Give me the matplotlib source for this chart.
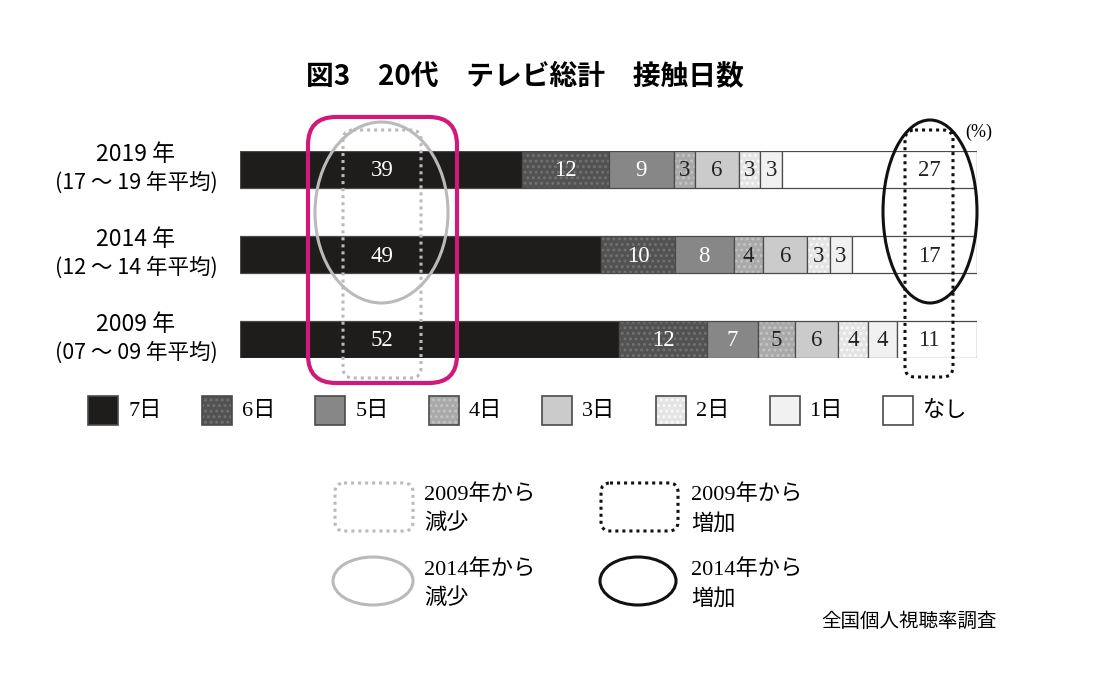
import matplotlib
matplotlib.use('Agg')
import numpy as np
import matplotlib.pyplot as plt
from matplotlib.patches import Rectangle, Ellipse, FancyBboxPatch

plt.rcParams['font.family'] = ['Noto Sans CJK JP', 'DejaVu Sans']
plt.rcParams['hatch.linewidth'] = 1.3

# data
title = '図3　20代　テレビ総計　接触日数'
years = ['2019 年', '2014 年', '2009 年']
periods = ['(17 ～ 19 年平均)', '(12 ～ 14 年平均)', '(07 ～ 09 年平均)']
categories = ['7日', '6日', '5日', '4日', '3日', '2日', '1日', 'なし']
values_2019 = [39, 12, 9, 3, 6, 3, 3, 27]
values_2014 = [49, 10, 8, 4, 6, 3, 3, 17]
values_2009 = [52, 12, 7, 5, 6, 4, 4, 11]
rows = [values_2019, values_2014, values_2009]
notes = [['2009年から', '減少'], ['2009年から', '増加'],
         ['2014年から', '減少'], ['2014年から', '増加']]
source = '全国個人視聴率調査'

# styles
colors = ['#1f1d1c', '#525252', '#878787', '#a9a9a9', '#cbcbcb', '#e4e4e4', '#f1f1f1', '#ffffff']
hatches = [None, '...', None, '...', None, '...', None, None]
hatch_cols = [None, '#727272', None, '#c4c4c4', None, '#fafafa', None, None]
text_cols = ['white', 'white', 'white', '#222222', '#222222', '#222222', '#222222', '#222222']
serif = ['Liberation Serif', 'Noto Sans CJK JP']
edge = '#4a4a4a'

W, H = 1098, 674
fig = plt.figure(figsize=(W / 100, H / 100), dpi=100)

# bar axes
top, bot = 150.6, 358.0
ax = fig.add_axes([240 / W, 1 - bot / H, (977 - 240) / W, (bot - top) / H])
ax.set_xlim(0, 100)
ax.set_ylim(2.22, -0.22)
ax.axis('off')
bh = 0.44

for r, vals in enumerate(rows):
    vals = np.array(vals, dtype=float)
    shares = vals / vals.sum() * 100
    lefts = np.cumsum(shares) - shares
    for i in range(len(vals)):
        ax.barh(r, shares[i], left=lefts[i], height=bh, color=colors[i], lw=0)
        if hatches[i]:
            ax.barh(r, shares[i], left=lefts[i], height=bh, fill=False,
                    hatch=hatches[i], edgecolor=hatch_cols[i], lw=0)
        ax.barh(r, shares[i], left=lefts[i], height=bh, fill=False,
                edgecolor=edge, lw=0.9)
        x = lefts[i] + shares[i] / 2
        if i == 0:
            x = 19.3
        if i == len(vals) - 1:
            x = 93.5
        ax.text(x, r + 0.02, str(int(vals[i])), ha='center', va='center',
                fontsize=16.5, color=text_cols[i], family='Liberation Serif')

# overlay in pixel coordinates
ov = fig.add_axes([0, 0, 1, 1], zorder=5)
ov.set_xlim(0, W)
ov.set_ylim(H, 0)
ov.axis('off')
ov.patch.set_alpha(0)

ov.text(525, 76, title, ha='center', va='center', fontsize=20, fontweight='bold')

centers = [169.3, 254.3, 339.3]
for yc, yr, pr in zip(centers, years, periods):
    ov.text(135, yc - 15, yr, ha='center', va='center', fontsize=16.5)
    ov.text(136, yc + 13, pr, ha='center', va='center', fontsize=15.5)

ov.text(979, 132, '(%)', ha='center', va='center', fontsize=13, family='Liberation Serif')

mag = '#d1197a'
lgray = '#bababa'
blk = '#111111'
dots = (0, (1, 1.3))

ov.add_patch(FancyBboxPatch((308, 117), 149, 266, boxstyle='round,pad=0,rounding_size=28',
                            fill=False, ec=mag, lw=3))
ov.add_patch(FancyBboxPatch((343, 130), 78, 248, boxstyle='round,pad=0,rounding_size=10',
                            fill=False, ec=lgray, lw=2.2, ls=dots))
ov.add_patch(Ellipse((381.5, 212.5), 133, 181, fill=False, ec=lgray, lw=2.2))
ov.add_patch(FancyBboxPatch((905, 130), 48, 247, boxstyle='round,pad=0,rounding_size=10',
                            fill=False, ec=blk, lw=2.2, ls=dots))
ov.add_patch(Ellipse((930, 211.5), 94, 183, fill=False, ec=blk, lw=2.2))

# category legend
for i, cat in enumerate(categories):
    x0 = 88 + i * 113.6
    ov.add_patch(Rectangle((x0, 396), 30, 29, color=colors[i], lw=0))
    if hatches[i]:
        ov.add_patch(Rectangle((x0, 396), 30, 29, fill=False, hatch=hatches[i],
                               ec=hatch_cols[i], lw=0))
    ov.add_patch(Rectangle((x0, 396), 30, 29, fill=False, ec=edge, lw=1.2))
    ov.text(x0 + 40, 411, cat, ha='left', va='center', fontsize=16, family=serif)

# marker legend
ov.add_patch(FancyBboxPatch((335, 483), 78, 48, boxstyle='round,pad=0,rounding_size=9',
                            fill=False, ec=lgray, lw=2.2, ls=dots))
ov.add_patch(FancyBboxPatch((601, 483), 77, 48, boxstyle='round,pad=0,rounding_size=9',
                            fill=False, ec=blk, lw=2.2, ls=dots))
ov.add_patch(Ellipse((373, 581), 80, 48, fill=False, ec=lgray, lw=2.2))
ov.add_patch(Ellipse((638, 581), 76, 48, fill=False, ec=blk, lw=2.2))

note_pos = [(424, 495), (691, 495), (424, 570), (691, 570)]
for (x, y), lines in zip(note_pos, notes):
    ov.text(x, y, lines[0], ha='left', va='center', fontsize=16, family=serif)
    ov.text(x, y + 29, lines[1], ha='left', va='center', fontsize=16, family=serif)

ov.text(997, 621, source, ha='right', va='center', fontsize=14)

fig.savefig('out.png', dpi=100)
